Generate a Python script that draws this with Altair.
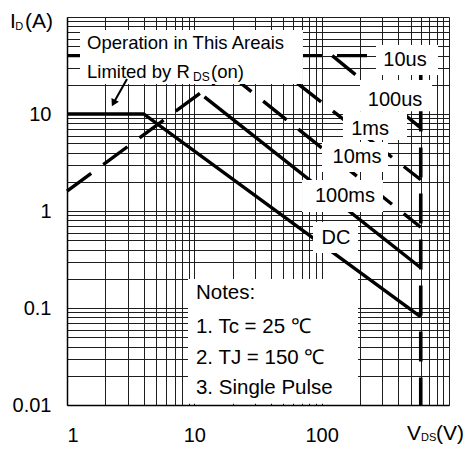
import altair as alt
import pandas as pd

FONT = "Liberation Sans"

# ---------------- curve data (V_DS in volts, I_D in amperes) ----------------
rds_v = [1, 28];        rds_i = [1.6, 40]        # limited by RDS(on)
t10us_v = [1, 600];     t10us_i = [40, 40]
bv_v = [600, 600];      bv_i = [40, 0.01]
t100us_v = [121, 600];  t100us_i = [40, 7.2]
t1ms_v = [34, 600];     t1ms_i = [40, 2.1]
t10ms_v = [18.4, 600];  t10ms_i = [26.5, 0.68]
t100ms_v = [12, 600];   t100ms_i = [15, 0.26]
dc_v = [1, 4, 600];     dc_i = [10, 10, 0.081]

# axis grid / tick values
x_grid = [1, 2, 3, 4, 5, 6, 7, 8, 9,
          10, 20, 30, 40, 50, 60, 70, 80, 90,
          100, 200, 300, 400, 500, 600, 700, 800, 900, 1000]
y_grid = [0.01, 0.02, 0.03, 0.04, 0.05, 0.06, 0.07, 0.08, 0.09,
          0.1, 0.2, 0.3, 0.4, 0.5, 0.6, 0.7, 0.8, 0.9,
          1, 2, 3, 4, 5, 6, 7, 8, 9,
          10, 20, 30, 40, 50, 60, 70, 80, 90, 100]


def rows(name, vs, cs):
    return [{"series": name, "idx": k, "V": v, "I": c} for k, (v, c) in enumerate(zip(vs, cs))]


dashed = pd.DataFrame(
    rows("RDS(on)", rds_v, rds_i) + rows("10us", t10us_v, t10us_i)
    + rows("100us", t100us_v, t100us_i) + rows("1ms", t1ms_v, t1ms_i)
    + rows("10ms", t10ms_v, t10ms_i)
)
bv = pd.DataFrame(rows("BVDSS", bv_v, bv_i))
solid = pd.DataFrame(rows("100ms", t100ms_v, t100ms_i) + rows("DC", dc_v, dc_i))

# ---------------- annotation boxes (white, hide grid/curves) ----------------
box_name = ["op", "10us", "100us", "1ms", "10ms", "100ms", "DC", "notes"]
box_v1 = [1.265, 267, 200, 147, 100.6, 70.1, 85.5, 8.92]
box_v2 = [71.3, 820, 736, 468, 332, 303, 193, 193]
box_i1 = [73.4, 51.5, 22.4, 10.7, 5.14, 2.09, 0.77, 0.199]
box_i2 = [20.4, 25.2, 10.7, 5.39, 2.52, 0.977, 0.369, 0.0103]
boxes = pd.DataFrame({"name": box_name, "V": box_v1, "V2": box_v2, "I": box_i1, "I2": box_i2})

# curve labels (centered)
curve_lbl = ["10us", "100us", "1ms", "10ms", "100ms", "DC"]
curve_lbl_v = [451, 377, 240, 189.4, 152.5, 129.6]
curve_lbl_i = [36.0, 13.9, 7.0, 3.6, 1.43, 0.527]
curve_labels = pd.DataFrame({"t": curve_lbl, "V": curve_lbl_v, "I": curve_lbl_i})

# RDS(on) box texts
op_txt = ["Operation in This Areais", "Limited by R", "(on)"]
op_v = [1.436, 1.436, 13.52]
op_i = [53.9, 27.1, 27.1]
op_texts = pd.DataFrame({"t": op_txt, "V": op_v, "I": op_i})
op_sub = pd.DataFrame({"t": ["DS"], "V": [9.76], "I": [24.1]})

# notes
notes_txt = ["Notes:", "1. Tc = 25 \u2103", "2. TJ = 150 \u2103", "3. Single Pulse"]
notes_v = [10.3, 10.3, 10.3, 10.3]
notes_i = [0.143, 0.0637, 0.0305, 0.015]
notes = pd.DataFrame({"t": notes_txt, "V": notes_v, "I": notes_i})

# axis titles
ttl_txt = ["I", "(A)", "V", "(V)"]
ttl_v = [0.357, 0.468, 468, 791]
ttl_i = [88.8, 88.8, 0.00502, 0.00502]
titles = pd.DataFrame({"t": ttl_txt, "V": ttl_v, "I": ttl_i})
sub_txt = ["D", "DS"]
sub_v = [0.392, 603]
sub_i = [78.9, 0.0046]
subs = pd.DataFrame({"t": sub_txt, "V": sub_v, "I": sub_i})

# arrow pointing to the DC flat part
arrow = pd.DataFrame({"idx": [0, 1], "V": [2.96, 2.32], "I": [22.97, 12.98]})
arrow_head = pd.DataFrame({"V": [2.32], "I": [12.98]})

# ---------------- scales / axes ----------------
xscale = alt.Scale(type="log", domain=[1, 1000], nice=False)
yscale = alt.Scale(type="log", domain=[0.01, 100], nice=False)
xaxis = alt.Axis(
    values=x_grid, title=None, grid=True, ticks=False, labelOverlap=False,
    labelExpr="datum.value == 1 ? '1' : datum.value == 10 ? '10' : datum.value == 100 ? '100' : ''",
    labelFontSize=20, labelFont=FONT, labelColor="black", labelPadding=20,
    gridColor="#1e1e1e", gridWidth=1, gridOpacity=1, domainColor="black", domainWidth=1.5,
)
yaxis = alt.Axis(
    values=y_grid, title=None, grid=True, ticks=False, labelOverlap=False,
    labelExpr="datum.value == 0.01 ? '0.01' : datum.value == 0.1 ? '0.1' : datum.value == 1 ? '1' : datum.value == 10 ? '10' : ''",
    labelFontSize=20, labelFont=FONT, labelColor="black", labelPadding=16,
    gridColor="#1e1e1e", gridWidth=1, gridOpacity=1, domainColor="black", domainWidth=1.5,
)
X = alt.X("V:Q", scale=xscale, axis=xaxis)
Y = alt.Y("I:Q", scale=yscale, axis=yaxis)

dashed_layer = alt.Chart(dashed).mark_line(
    color="black", strokeWidth=3.4, strokeDash=[30, 15], strokeCap="butt"
).encode(x=X, y=Y, detail="series:N", order="idx:Q")

bv_layer = alt.Chart(bv).mark_line(
    color="black", strokeWidth=3.6, strokeDash=[30, 16], strokeCap="butt"
).encode(x=X, y=Y, order="idx:Q")

solid_layer = alt.Chart(solid).mark_line(
    color="black", strokeWidth=3.4, strokeCap="butt", strokeJoin="miter"
).encode(x=X, y=Y, detail="series:N", order="idx:Q")

box_layer = alt.Chart(boxes).mark_rect(color="white", opacity=1).encode(
    x=X, x2="V2:Q", y=Y, y2="I2:Q"
)


def text_layer(df, size, align="left"):
    return alt.Chart(df).mark_text(
        font=FONT, fontSize=size, align=align, baseline="middle", color="black"
    ).encode(x=X, y=Y, text="t:N")


arrow_layer = alt.Chart(arrow).mark_line(color="black", strokeWidth=2).encode(
    x=X, y=Y, order="idx:Q"
)
head_layer = alt.Chart(arrow_head).mark_point(
    shape="triangle-down", filled=True, color="black", size=70, angle=27, opacity=1
).encode(x=X, y=Y)

chart = alt.layer(
    dashed_layer, bv_layer, solid_layer, box_layer,
    text_layer(curve_labels, 20, "center"),
    text_layer(op_texts, 18.5), text_layer(op_sub, 12),
    text_layer(notes, 20.5),
    text_layer(titles, 21), text_layer(subs, 11),
    arrow_layer, head_layer,
).properties(
    width=382, height=388,
    background="white",
    autosize=alt.AutoSizeParams(type="none"),
    padding={"left": 59, "top": 9, "right": 16, "bottom": 39},
).configure_view(stroke=None)

chart.save("out.html", embed_options={"renderer": "svg", "actions": False})
